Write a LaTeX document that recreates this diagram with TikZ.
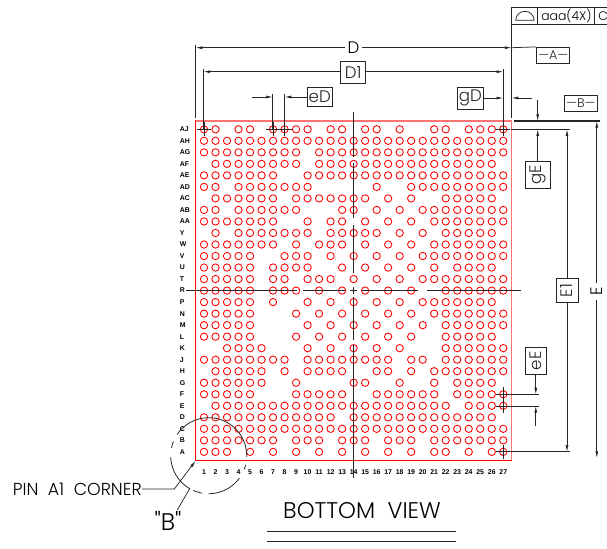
\documentclass[tikz,border=0pt]{standalone}
\usepackage{fontspec}
\setmainfont{Liberation Sans}
\newfontfamily\lightf{Poppins Light}
\usetikzlibrary{arrows.meta}
\tikzset{
  ln/.style={line width=0.55pt,black!85},
  arr/.style={ln,-{Latex[length=5pt,width=2.2pt]}},
  ball/.style={red,line width=0.65pt},
  box/.style={draw,line width=0.6pt,black!85,inner sep=0pt,minimum width=#1},
  txt/.style={inner sep=0pt,font=\lightf\fontsize{12.5}{13}\selectfont},
  boxtxt/.style={font=\lightf\fontsize{12.5}{13}\selectfont},
  lab/.style={inner sep=0pt,font=\fontsize{5.2}{5.2}\selectfont\bfseries},
}
\newcommand{\ballrow}[2]{%
  \foreach \a/\b in {#2}{\foreach \c in {\a,...,\b}{%
    \pgfmathsetmacro{\bx}{204+11.51*(\c-1)}\pgfmathsetmacro{\by}{129.3+11.52*#1}%
    \draw[ball] (\bx,\by) circle[radius=2.75pt];}}}
\newcommand{\xhair}[2]{\draw[line width=0.5pt,black!85] (#1-7,#2)--(#1+7,#2) (#1,#2-7)--(#1,#2+7);}
\begin{document}
\begin{tikzpicture}[x=0.75pt,y=-0.75pt]
\useasboundingbox (0,0) rectangle (607,549);
% ball grid
\ballrow{0}{1/2,4/5,7/10,12/13,15/16,18/18,21/22,24/27}
\ballrow{1}{1/27}
\ballrow{2}{1/9,11/27}
\ballrow{3}{2/9,11/26}
\ballrow{4}{1/7,10/27}
\ballrow{5}{1/2,4/10,16/16,19/27}
\ballrow{6}{2/7,9/15,17/17,19/19,22/26}
\ballrow{7}{1/2,4/9,13/14,16/16,18/18,20/27}
\ballrow{8}{1/7,10/10,12/13,15/15,17/17,19/19,21/27}
\ballrow{9}{2/2,4/10,12/16,18/18,20/20,22/26}
\ballrow{10}{1/7,9/9,11/13,15/15,17/17,19/19,21/27}
\ballrow{11}{1/5,8/10,12/12,14/14,16/16,18/18,20/27}
\ballrow{12}{1/5,7/10,13/13,15/15,17/17,19/19,21/21,23/26}
\ballrow{13}{1/5,7/8,10/12,14/14,16/16,18/18,20/27}
\ballrow{14}{1/5,7/9,11/11,13/13,15/15,17/17,19/19,22/27}
\ballrow{15}{1/5,7/7,10/10,12/12,14/14,16/16,18/18,20/26}
\ballrow{16}{1/5,9/9,11/11,13/13,15/15,17/17,19/19,21/27}
\ballrow{17}{1/5,10/10,12/12,14/14,16/16,18/18,20/20,22/27}
\ballrow{18}{1/5,9/9,11/11,13/13,15/15,17/17,19/19,22/26}
\ballrow{19}{3/6,10/10,12/12,14/14,16/16,18/18,22/27}
\ballrow{20}{1/8,10/17,19/20,22/27}
\ballrow{21}{2/6,8/8,10/13,16/17,19/19,21/27}
\ballrow{22}{1/6,9/9,14/15,18/18,21/21,23/26}
\ballrow{23}{1/5,9/13,16/21,23/27}
\ballrow{24}{2/22,24/27}
\ballrow{25}{1/12,14/26}
\ballrow{26}{1/27}
\ballrow{27}{1/7,9/11,13/15,17/19,21/27}
\ballrow{28}{1/3,5/5,7/7,9/9,11/11,13/13,15/15,17/17,19/19,21/22,24/24,26/27}
% package outline
\draw[red,line width=0.8pt] (511.6,121)--(195.6,121)--(195.6,460.4)--(511.6,460.4);
\draw[red!55,line width=0.9pt] (195.6,121)--(511.6,121)--(511.6,460.4);
% row and column labels
\foreach \r/\t in {0/AJ,1/AH,2/AG,3/AF,4/AE,5/AD,6/AC,7/AB,8/AA,9/Y,10/W,11/V,12/U,13/T,14/R,15/P,16/N,17/M,18/L,19/K,20/J,21/H,22/G,23/F,24/E,25/D,26/C,27/B,28/A}{
  \pgfmathsetmacro{\by}{129.3+11.52*\r}
  \node[lab,anchor=west] (row\t) at (179.5,\by) {\t};}
\foreach \c in {1,...,27}{
  \pgfmathsetmacro{\bx}{204+11.51*(\c-1)}
  \node[lab] (col\c) at (\bx,472) {\c};}
% centre lines
\draw[ln] (353.6,112)--(353.6,157) (353.6,163)--(353.6,218) (353.6,225)--(353.6,273) (353.6,287)--(353.6,294) (353.6,297)--(353.6,340) (353.6,345)--(353.6,478);
\draw[ln] (186,290.6)--(297,290.6) (303,290.6)--(345,290.6) (350,290.6)--(357,290.6) (362,290.6)--(418,290.6) (427,290.6)--(521,290.6);
% crosshairs on datum balls
\xhair{204}{129.3}\xhair{273}{129.3}\xhair{284.6}{129.3}\xhair{503.3}{129.3}
\xhair{503.3}{394.4}\xhair{503.3}{405.9}\xhair{503.3}{451.8}
% feature control frame
\draw[ln] (511.6,118)--(511.6,7)--(607,7) (511.6,24.5)--(607,24.5) (537.7,7)--(537.7,24.5) (594,7)--(594,24.5);
\draw[ln] (515.7,20.3) arc[start angle=180,end angle=0,x radius=6.9pt,y radius=6.75pt]--cycle;
\node[inner sep=0pt,font=\lightf\fontsize{9.3}{11}\selectfont] (aaa) at (566.5,15.7) {aaa(4X)};
\node[inner sep=0pt,font=\lightf\fontsize{9.3}{11}\selectfont,anchor=west] (frC) at (598,15.7) {C};
% D
\coordinate (DL) at (195.6,47.7); \coordinate (DR) at (511.6,47.7);
\node[txt,fill=white,minimum width=13pt,minimum height=10pt] (Dt) at (353.5,47.7) {D};
\draw[ln] (195.6,44.7)--(195.6,118);
\draw[arr] (Dt.west)--(DL); \draw[arr] (Dt.east)--(DR);
% -A-
\node[box=33*0.75pt,minimum height=12pt,font=\lightf\fontsize{9.5}{10}\selectfont] (A) at (553.3,55.3) {\textemdash A\textemdash};
\draw[ln] (DR)--(A.north west);
% D1
\node[box=25*0.75pt,minimum height=16.7pt,boxtxt] (D1) at (353.2,72.2) {D1};
\coordinate (D1L) at (203.5,71.7); \coordinate (D1R) at (503.3,71.7);
\draw[ln] (D1L|-0,69)--(D1L|-0,129) (D1R|-0,69)--(D1R|-0,129);
\draw[arr] (D1.west|-D1L)--(D1L); \draw[arr] (D1.east|-D1L)--(D1R);
% eD
\node[box=25*0.75pt,minimum height=14pt,boxtxt] (eD) at (319.8,97) {eD};
\coordinate (eDa) at (284.7,97); \coordinate (eDb) at (272.7,97); \coordinate (eDc) at (252.3,97);
\draw[ln] (eDa|-0,94)--(eDa|-0,129) (eDb|-0,94)--(eDb|-0,129);
\draw[arr] (eD.west)--(eDa); \draw[arr] (eDc)--(eDb);
% gD
\node[box=25.6*0.75pt,minimum height=16.5pt,boxtxt] (gD) at (470.5,98) {gD};
\coordinate (gDa) at (503.3,98); \coordinate (gDb) at (511.6,98); \coordinate (gDc) at (532.3,98);
\draw[arr] (gD.east)--(gDa); \draw[arr] (gDc)--(gDb);
% -B-
\node[box=33*0.75pt,minimum height=12pt,font=\lightf\fontsize{9.5}{10}\selectfont] (B) at (580.8,103.3) {\textemdash B\textemdash};
\coordinate (Bt) at (537.7,100); \coordinate (Bb) at (537.7,121);
\draw[arr] (Bt)--(Bb);
\draw[black!85,line width=0.9pt] (514,121)--(600,121);
% E
\coordinate (Etop) at (596.8,121); \coordinate (Ebot) at (596.8,458);
\node[txt,rotate=90,fill=white,minimum width=13pt,minimum height=9pt] (Et) at (596.8,291.5) {E};
\draw[arr] (Et.east)--(Etop); \draw[arr] (Et.west)--(Ebot);
% E1
\coordinate (E1top) at (567,129.3); \coordinate (E1bot) at (567,451.8);
\node[box=24.4*0.75pt,minimum height=16.5pt,rotate=90,boxtxt] (E1) at (567,290.5) {E1};
\draw[ln] (511,129.3)--(570,129.3) (510,451.8)--(570,451.8);
\draw[arr] (E1.east)--(E1top); \draw[arr] (E1.west)--(E1bot);
% gE
\node[box=27.3*0.75pt,minimum height=19pt,rotate=90,boxtxt] (gE) at (537.7,174.7) {gE};
\coordinate (gEa) at (537.7,129.3);
\draw[arr] (gE.east)--(gEa);
% eE
\node[box=26.7*0.75pt,minimum height=16.3pt,rotate=90,boxtxt] (eE) at (535.8,360.7) {eE};
\coordinate (eEa) at (535.8,394.4); \coordinate (eEb) at (535.8,405.9); \coordinate (eEc) at (535.8,426);
\draw[ln] (508,394.4)--(538.7,394.4) (508,405.9)--(538.7,405.9);
\draw[arr] (eE.west)--(eEa); \draw[arr] (eEc)--(eEb);
% detail circle B
\foreach \s/\e in {146/-2,-14/-21,-36/-90,-100/-114,-120/-178,158/168}{
  \draw[ln,line width=0.6pt] plot[domain=\s:\e,samples=40,smooth] ({208.7+38*cos(\x)},{455.7-38*sin(\x)});}
% pin A1 leader
\node[inner sep=0pt,anchor=east,font=\lightf\fontsize{13}{14}\selectfont] (pin) at (142,489.5) {PIN\ \ A1\ \ CORNER};
\coordinate (pinK) at (174.3,489); \coordinate (pinT) at (195.6,460.8);
\draw[arr] (pin.east|-pinK)--(pinK)--(pinT);
% "B"
\node[inner sep=0pt,font=\lightf\fontsize{18}{19}\selectfont] (bq) at (168,520.5) {"B"};
\coordinate (bqE) at (190,488);
\draw[ln] (177.3,510)--(bqE);
% title
\node[inner sep=0pt,font=\lightf\fontsize{17}{18}\selectfont] (title) at (362,511) {BOTTOM\ \ VIEW};
\draw[ln,line width=0.7pt] (266.5,531)--(456,531) (266.5,541.5)--(456,541.5);
\end{tikzpicture}
\end{document}
